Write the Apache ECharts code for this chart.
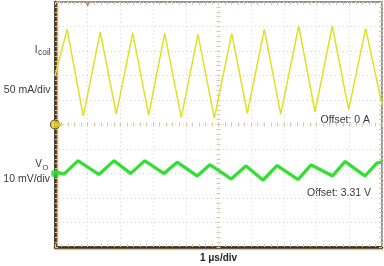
<!DOCTYPE html>
<html><head><meta charset="utf-8">
<script src="https://cdn.jsdelivr.net/npm/echarts@6/dist/echarts.min.js"></script>
<style>html,body{margin:0;padding:0;background:#fff}#c{width:384px;height:266px}</style>
</head><body><div id="c"></div>
<script>
// Time axis (µs), 10 divisions of 1 µs
var timeTicks = [0,1,2,3,4,5,6,7,8,9,10];
// Coil current (mA), 50 mA/div, offset 0 A
var icoilTime = [0, 0.37, 0.865, 1.385, 1.875, 2.376, 2.865, 3.355, 3.862, 4.373, 4.872, 5.404, 5.881, 6.401, 6.902, 7.453, 7.951, 8.48, 8.98, 9.5, 10];
var icoilMA   = [99, 194, 17, 189, 21, 187, 19, 186, 14, 184, 13, 186, 23, 194, 21, 201, 26, 201, 30, 196, 40];
// Output voltage ripple (mV), 10 mV/div, offset 3.31 V
var voTime = [0, 0.275, 0.703, 1.346, 1.804, 2.315, 2.743, 3.333, 3.74, 4.352, 4.74, 5.391, 5.841, 6.361, 6.789, 7.431, 7.829, 8.486, 8.869, 9.48, 9.847, 10];
var voMV   = [0.7, -0.2, 5.2, -0.4, 5.2, 0, 5.2, 0, 4.6, -1.0, 3.6, -2.2, 3.1, -2.7, 3.3, -2.4, 3.5, -1.0, 4.9, -1.0, 4.3, 4.7];

var icoilData = icoilTime.map(function(t,i){return [t, icoilMA[i]];});
var voData = voTime.map(function(t,i){return [t, voMV[i]];});

var txt = '#3a3a3a';
var tickCol = '#d6c8a4';
var gridCol = '#d6d6d6';
var font = 'Liberation Sans, Arial, sans-serif';

function xAx(extra){
  var base = {type:'value', min:0, max:10, interval:1, axisLabel:{show:false},
    axisLine:{show:false, onZero:false}, splitLine:{show:false},
    axisTick:{show:true, inside:true, length:3, lineStyle:{color:tickCol}},
    minorTick:{show:true, splitNumber:5, length:3, lineStyle:{color:tickCol}}};
  return Object.assign(base, extra);
}
function yAx(min,max,interval,extra){
  var base = {type:'value', min:min, max:max, interval:interval, axisLabel:{show:false},
    axisLine:{show:false, onZero:false}, splitLine:{show:false},
    axisTick:{show:true, inside:true, length:3, lineStyle:{color:tickCol}},
    minorTick:{show:true, splitNumber:5, length:3, lineStyle:{color:tickCol}}};
  return Object.assign(base, extra);
}

var chart = echarts.init(document.getElementById('c'), null, {renderer:'canvas'});
chart.setOption({
  backgroundColor:'#fff',
  animation:false,
  grid:{left:55, top:2, width:327, height:245, show:true, borderColor:'#707070', borderWidth:1.5, backgroundColor:'#fff'},
  xAxis:[
    xAx({position:'bottom', axisLine:{show:true, onZero:false, lineStyle:{color:'#3b3428', width:2.5, shadowColor:'#e8c890', shadowOffsetY:1.5}},
         splitLine:{show:true, lineStyle:{color:gridCol, type:[1,3], width:1}}}),
    xAx({position:'top'}),
    xAx({position:'bottom', offset:-122.5, axisTick:{show:true, inside:true, length:2, lineStyle:{color:tickCol}}, minorTick:{show:true, splitNumber:5, length:2, lineStyle:{color:tickCol}}}),
    xAx({position:'bottom', offset:-122.5, axisTick:{show:true, inside:false, length:2, lineStyle:{color:tickCol}}, minorTick:{show:true, splitNumber:5, length:2, lineStyle:{color:tickCol}}})
  ],
  yAxis:[
    yAx(-250,250,50,{position:'left', axisLine:{show:true, onZero:false, lineStyle:{color:'#3b3428', width:2.5, shadowColor:'#f0a040', shadowOffsetX:1.5}},
         splitLine:{show:true, lineStyle:{color:gridCol, type:[1,3], width:1}}}),
    yAx(-30,70,10,{position:'right'}),
    yAx(-250,250,50,{position:'left', offset:-163.5, axisTick:{show:true, inside:true, length:2, lineStyle:{color:tickCol}}, minorTick:{show:true, splitNumber:5, length:2, lineStyle:{color:tickCol}}}),
    yAx(-250,250,50,{position:'left', offset:-163.5, axisTick:{show:true, inside:false, length:2, lineStyle:{color:tickCol}}, minorTick:{show:true, splitNumber:5, length:2, lineStyle:{color:tickCol}}})
  ],
  series:[
    {type:'line', name:'Vo', xAxisIndex:0, yAxisIndex:1, data:voData, symbol:'none', z:3,
     lineStyle:{color:'#33dd33', width:3, shadowColor:'rgba(60,220,60,0.5)', shadowBlur:1.5}},
    {type:'line', name:'Icoil', xAxisIndex:0, yAxisIndex:0, data:icoilData, symbol:'none', z:4,
     lineStyle:{color:'#e0e024', width:1.5}},
    {type:'scatter', xAxisIndex:0, yAxisIndex:0, data:[[0,0]], clip:false, symbol:'circle', symbolSize:9, z:6,
     itemStyle:{color:'#f0d020', borderColor:'#3a3020', borderWidth:1.2}},
    {type:'scatter', xAxisIndex:0, yAxisIndex:0, data:[[0,0]], clip:false, symbol:'triangle', symbolRotate:-90, symbolSize:[5,5], symbolOffset:[6,0], z:6,
     itemStyle:{color:'#e8d820'}},
    {type:'scatter', xAxisIndex:0, yAxisIndex:1, data:[[0,0]], clip:false, symbol:'circle', symbolSize:8, z:5,
     itemStyle:{color:'#30d830'}},
    {type:'scatter', xAxisIndex:0, yAxisIndex:0, data:[[1,250]], clip:false, symbol:'triangle', symbolRotate:180, symbolSize:[4,4], symbolOffset:[0,3], z:6,
     itemStyle:{color:'#e0601e'}}
  ],
  graphic:[
    {type:'text', style:{x:37.5, y:50, text:'I', font:'10px '+font, fill:txt, textAlign:'right', textVerticalAlign:'middle'}},
    {type:'text', style:{x:38, y:53, text:'coil', font:'8.5px '+font, fill:txt, textAlign:'left', textVerticalAlign:'middle'}},
    {type:'text', style:{x:50.5, y:89.7, text:'50 mA/div', font:'10.5px '+font, fill:txt, textAlign:'right', textVerticalAlign:'middle'}},
    {type:'text', style:{x:42, y:164.7, text:'V', font:'10px '+font, fill:txt, textAlign:'right', textVerticalAlign:'middle'}},
    {type:'text', style:{x:42.5, y:167.5, text:'O', font:'7.5px '+font, fill:txt, textAlign:'left', textVerticalAlign:'middle'}},
    {type:'text', style:{x:50, y:179, text:'10 mV/div', font:'10.5px '+font, fill:txt, textAlign:'right', textVerticalAlign:'middle'}},
    {type:'text', style:{x:370, y:119.8, text:'Offset: 0 A', font:'10.5px '+font, fill:txt, textAlign:'right', textVerticalAlign:'middle'}},
    {type:'text', style:{x:371, y:193.4, text:'Offset: 3.31 V', font:'10.5px '+font, fill:txt, textAlign:'right', textVerticalAlign:'middle'}},
    {type:'text', style:{x:218.5, y:258.3, text:'1 \u03bcs/div', font:'bold 10px '+font, fill:'#222', textAlign:'center', textVerticalAlign:'middle'}}
  ]
});
</script></body></html>
